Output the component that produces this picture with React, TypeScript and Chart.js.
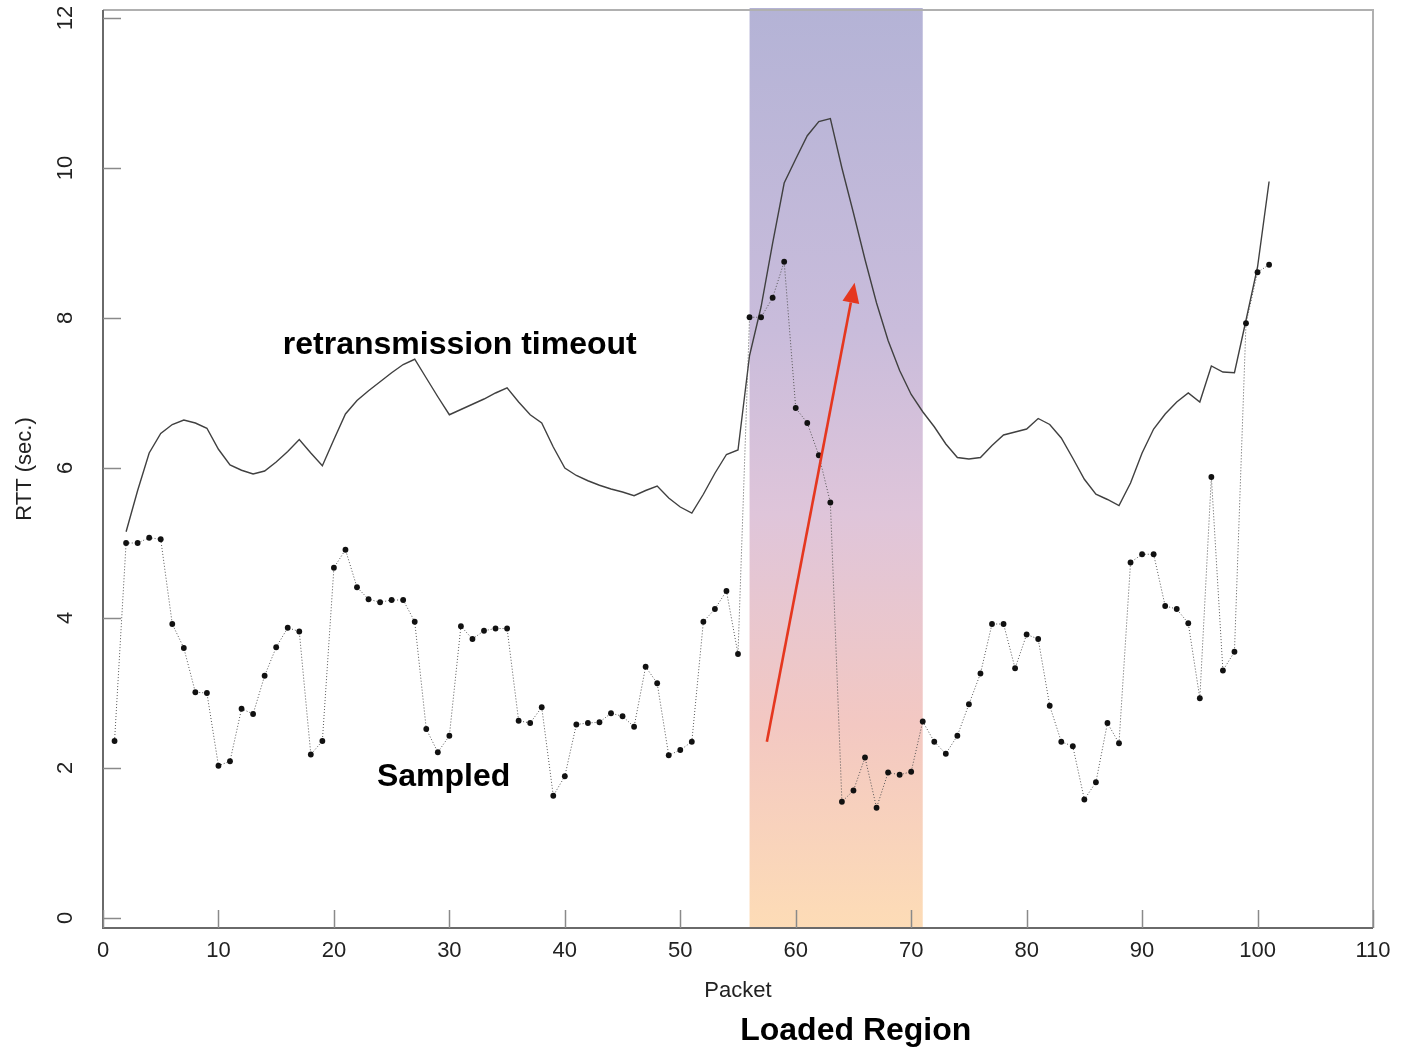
import { useEffect, useRef } from "react";
import { Chart, registerables } from "chart.js";

Chart.register(...registerables);

// ---------------- data ----------------
const packets = [
  1, 2, 3, 4, 5, 6, 7, 8, 9, 10, 11, 12, 13, 14, 15, 16, 17, 18, 19, 20,
  21, 22, 23, 24, 25, 26, 27, 28, 29, 30, 31, 32, 33, 34, 35, 36, 37, 38, 39, 40,
  41, 42, 43, 44, 45, 46, 47, 48, 49, 50, 51, 52, 53, 54, 55, 56, 57, 58, 59, 60,
  61, 62, 63, 64, 65, 66, 67, 68, 69, 70, 71, 72, 73, 74, 75, 76, 77, 78, 79, 80,
  81, 82, 83, 84, 85, 86, 87, 88, 89, 90, 91, 92, 93, 94, 95, 96, 97, 98, 99, 100, 101,
];

const sampledRtt = [
  2.36, 5.0, 5.0, 5.07, 5.05, 3.92, 3.6, 3.01, 3.0, 2.03,
  2.09, 2.79, 2.72, 3.23, 3.61, 3.87, 3.82, 2.18, 2.36, 4.67,
  4.91, 4.41, 4.25, 4.21, 4.24, 4.24, 3.95, 2.52, 2.21, 2.43,
  3.89, 3.72, 3.83, 3.86, 3.86, 2.63, 2.6, 2.81, 1.63, 1.89,
  2.58, 2.6, 2.61, 2.73, 2.69, 2.55, 3.35, 3.13, 2.17, 2.24,
  2.35, 3.95, 4.12, 4.36, 3.52, 8.01, 8.01, 8.27, 8.75, 6.8,
  6.6, 6.17, 5.54, 1.55, 1.7, 2.14, 1.47, 1.94, 1.91, 1.95,
  2.62, 2.35, 2.19, 2.43, 2.85, 3.26, 3.92, 3.92, 3.33, 3.78,
  3.72, 2.83, 2.35, 2.29, 1.58, 1.81, 2.6, 2.33, 4.74, 4.85,
  4.85, 4.16, 4.12, 3.93, 2.93, 5.88, 3.3, 3.55, 7.93, 8.61,
  8.71,
];

const rtoPackets = packets.slice(1);

const rtoValues = [
  5.15, 5.7, 6.2, 6.46, 6.58, 6.64, 6.6, 6.53, 6.25,
  6.04, 5.97, 5.92, 5.96, 6.08, 6.22, 6.38, 6.2, 6.03, 6.38,
  6.72, 6.9, 7.03, 7.15, 7.27, 7.38, 7.45, 7.2, 6.95, 6.71,
  6.78, 6.85, 6.92, 7.0, 7.07, 6.88, 6.71, 6.6, 6.28, 6.0,
  5.9, 5.83, 5.77, 5.72, 5.68, 5.63, 5.7, 5.76, 5.6, 5.48,
  5.4, 5.65, 5.93, 6.18, 6.24, 7.5, 8.15, 9.0, 9.8, 10.12,
  10.43, 10.62, 10.66, 10.0, 9.4, 8.78, 8.2, 7.7, 7.3, 6.98,
  6.75, 6.55, 6.32, 6.14, 6.12, 6.14, 6.3, 6.44, 6.48, 6.52,
  6.66, 6.58, 6.4, 6.13, 5.85, 5.65, 5.58, 5.5, 5.8, 6.2,
  6.52, 6.72, 6.88, 7.0, 6.88, 7.36, 7.28, 7.27, 7.97, 8.68,
  9.82,
];

const xTicks = [0, 10, 20, 30, 40, 50, 60, 70, 80, 90, 100, 110];
const yTicks = [0, 2, 4, 6, 8, 10, 12];
const loadedRegion = [56, 71];
const arrowFrom = [57.5, 2.35];
const arrowTo = [65.1, 8.47];

const xTitle = "Packet";
const yTitle = "RTT (sec.)";
const rtoLabel = "retransmission timeout";
const sampledLabel = "Sampled";
const regionLabel = "Loaded Region";
const rtoLabelPos = [30.9, 7.64];
const sampledLabelPos = [29.5, 1.88];
const regionLabelX = 65.2;

const FONT = "'Liberation Sans', Arial, Helvetica, sans-serif";

const decorPlugin = {
  id: "decor",
  beforeDatasetsDraw(chart: any) {
    const { ctx, chartArea: a, scales } = chart;
    const x = scales.x;
    const x0 = x.getPixelForValue(loadedRegion[0]);
    const x1 = x.getPixelForValue(loadedRegion[1]);
    const top = a.top - 2;
    const g = ctx.createLinearGradient(0, top, 0, a.bottom);
    g.addColorStop(0, "#b4b3d6");
    g.addColorStop(0.35, "#c9bcdb");
    g.addColorStop(0.55, "#dfc5da");
    g.addColorStop(0.78, "#f3c8c2");
    g.addColorStop(1, "#fddcb6");
    ctx.save();
    ctx.fillStyle = g;
    ctx.fillRect(x0, top, x1 - x0, a.bottom - top);
    ctx.restore();
  },
  afterDatasetsDraw(chart: any) {
    const { ctx, chartArea: a, scales } = chart;
    const x = scales.x;
    const y = scales.y;
    ctx.save();

    // frame: top & right light, left & bottom axes darker
    ctx.lineWidth = 2;
    ctx.strokeStyle = "#b0b0b0";
    ctx.beginPath();
    ctx.moveTo(a.left, a.top);
    ctx.lineTo(a.right, a.top);
    ctx.lineTo(a.right, a.bottom);
    ctx.stroke();
    ctx.strokeStyle = "#6a6a6a";
    ctx.beginPath();
    ctx.moveTo(a.left, a.top);
    ctx.lineTo(a.left, a.bottom);
    ctx.lineTo(a.right, a.bottom);
    ctx.stroke();

    // ticks (pointing inward)
    ctx.lineWidth = 1.5;
    ctx.strokeStyle = "#8a8a8a";
    const tl = 18;
    xTicks.forEach((v) => {
      const px = Math.round(x.getPixelForValue(v)) + 0.5;
      ctx.beginPath();
      ctx.moveTo(px, a.bottom);
      ctx.lineTo(px, a.bottom - tl);
      ctx.stroke();
    });
    yTicks.forEach((v) => {
      const py = Math.round(y.getPixelForValue(v)) + 0.5;
      ctx.beginPath();
      ctx.moveTo(a.left, py);
      ctx.lineTo(a.left + tl, py);
      ctx.stroke();
    });

    // tick labels
    ctx.fillStyle = "#222";
    ctx.font = `22px ${FONT}`;
    ctx.textAlign = "center";
    ctx.textBaseline = "middle";
    xTicks.forEach((v) => {
      ctx.fillText(String(v), x.getPixelForValue(v), a.bottom + 23);
    });
    yTicks.forEach((v) => {
      ctx.save();
      ctx.translate(a.left - 37, y.getPixelForValue(v));
      ctx.rotate(-Math.PI / 2);
      ctx.fillText(String(v), 0, 0);
      ctx.restore();
    });

    // axis titles
    ctx.font = `22px ${FONT}`;
    ctx.fillText(xTitle, (a.left + a.right) / 2, a.bottom + 63);
    ctx.save();
    ctx.translate(a.left - 78, (a.top + a.bottom) / 2);
    ctx.rotate(-Math.PI / 2);
    ctx.fillText(yTitle, 0, 0);
    ctx.restore();

    // arrow
    const ax0 = x.getPixelForValue(arrowFrom[0]);
    const ay0 = y.getPixelForValue(arrowFrom[1]);
    const ax1 = x.getPixelForValue(arrowTo[0]);
    const ay1 = y.getPixelForValue(arrowTo[1]);
    const ang = Math.atan2(ay1 - ay0, ax1 - ax0);
    const headLen = 20;
    const headW = 8.5;
    const bx = ax1 - headLen * Math.cos(ang);
    const by = ay1 - headLen * Math.sin(ang);
    ctx.strokeStyle = "#e5371f";
    ctx.fillStyle = "#e5371f";
    ctx.lineWidth = 2.6;
    ctx.beginPath();
    ctx.moveTo(ax0, ay0);
    ctx.lineTo(bx, by);
    ctx.stroke();
    ctx.beginPath();
    ctx.moveTo(ax1, ay1);
    ctx.lineTo(bx + headW * Math.sin(ang), by - headW * Math.cos(ang));
    ctx.lineTo(bx - headW * Math.sin(ang), by + headW * Math.cos(ang));
    ctx.closePath();
    ctx.fill();

    // annotations
    ctx.fillStyle = "#000";
    ctx.font = `bold 32px ${FONT}`;
    ctx.textAlign = "center";
    ctx.textBaseline = "middle";
    ctx.fillText(rtoLabel, x.getPixelForValue(rtoLabelPos[0]), y.getPixelForValue(rtoLabelPos[1]));
    ctx.fillText(sampledLabel, x.getPixelForValue(sampledLabelPos[0]), y.getPixelForValue(sampledLabelPos[1]));
    ctx.fillText(regionLabel, x.getPixelForValue(regionLabelX), a.bottom + 103);

    ctx.restore();
  },
};

export default function App() {
  const canvasRef = useRef<HTMLCanvasElement | null>(null);

  useEffect(() => {
    const canvas = canvasRef.current;
    if (!canvas) return;
    const chart = new Chart(canvas, {
      type: "line",
      data: {
        datasets: [
          {
            label: "Sampled",
            data: packets.map((p, i) => ({ x: p, y: sampledRtt[i] })),
            borderColor: "#555555",
            borderWidth: 1,
            borderDash: [1, 2],
            pointRadius: 2.9,
            pointBackgroundColor: "#111",
            pointBorderWidth: 0,
            tension: 0,
            fill: false,
          },
          {
            label: "RTO",
            data: rtoPackets.map((p, i) => ({ x: p, y: rtoValues[i] })),
            borderColor: "#404040",
            borderWidth: 1.4,
            pointRadius: 0,
            tension: 0,
            fill: false,
          },
        ],
      },
      options: {
        animation: false,
        responsive: false,
        devicePixelRatio: 1,
        layout: { padding: { left: 103, right: 29, top: 10, bottom: 122 } },
        plugins: {
          legend: { display: false },
          tooltip: { enabled: false },
        },
        scales: {
          x: { type: "linear", min: 0, max: 110, display: false },
          y: { type: "linear", min: -0.1333, max: 12.1067, display: false },
        },
      },
      plugins: [decorPlugin],
    });
    return () => chart.destroy();
  }, []);

  return (
    <div style={{ position: "absolute", left: 0, top: 0, width: 1402, height: 1050, background: "#fff" }}>
      <canvas ref={canvasRef} width={1402} height={1050} style={{ display: "block" }} />
    </div>
  );
}
